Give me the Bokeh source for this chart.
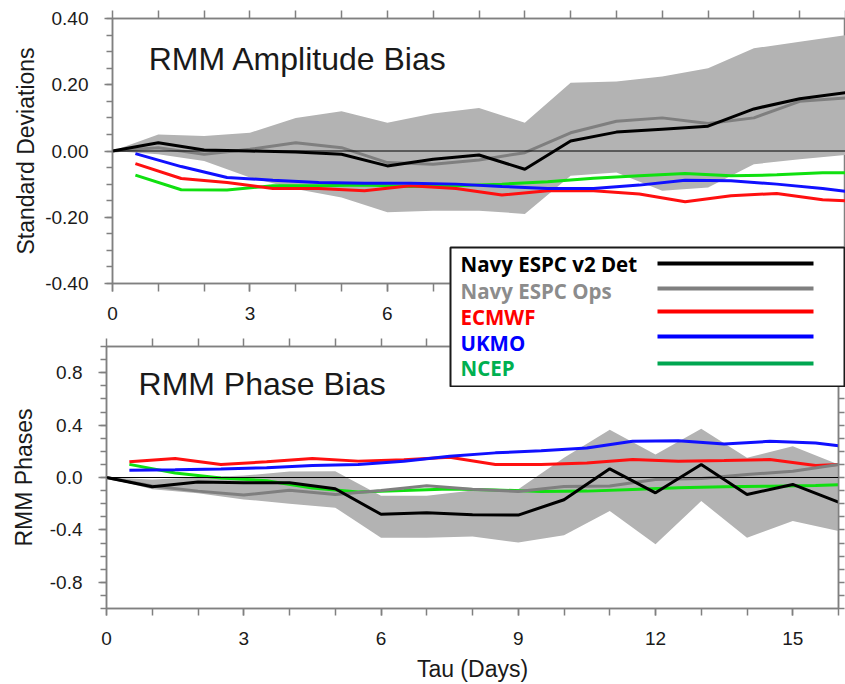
from bokeh.plotting import figure
from bokeh.models import (Range1d, FixedTicker, NumeralTickFormatter, LinearAxis,
                          Span, Label)
from bokeh.core.properties import value
from bokeh.embed import file_html
from bokeh.resources import INLINE

# ---------------- data ----------------
days = list(range(17))
half_days = [d + 0.5 for d in range(16)] + [16.0]

# RMM Amplitude Bias (standard deviations)
amp_band_upper = [0.0, 0.05, 0.045, 0.055, 0.10, 0.12, 0.085, 0.113, 0.13, 0.085,
                  0.206, 0.21, 0.225, 0.25, 0.31, 0.33, 0.35]
amp_band_lower = [0.0, -0.01, -0.03, -0.08, -0.115, -0.14, -0.185, -0.18, -0.18, -0.19,
                  -0.075, -0.065, -0.12, -0.11, -0.04, -0.025, -0.012]
amp_det = [0.0, 0.025, 0.003, 0.0, -0.003, -0.01, -0.045, -0.025, -0.012, -0.055,
           0.03, 0.057, 0.066, 0.075, 0.127, 0.158, 0.176]
amp_ops = [0.0, 0.01, -0.01, 0.005, 0.025, 0.01, -0.035, -0.04, -0.027, -0.005,
           0.055, 0.09, 0.1, 0.083, 0.1, 0.15, 0.16]
amp_ecmwf = [-0.038, -0.083, -0.095, -0.113, -0.113, -0.12, -0.105, -0.113, -0.133,
             -0.12, -0.12, -0.13, -0.153, -0.135, -0.128, -0.147, -0.15]
amp_ukmo = [-0.008, -0.047, -0.08, -0.088, -0.095, -0.097, -0.097, -0.1, -0.107,
            -0.113, -0.113, -0.103, -0.088, -0.09, -0.1, -0.113, -0.122]
amp_ncep = [-0.073, -0.117, -0.118, -0.105, -0.105, -0.103, -0.107, -0.105, -0.1,
            -0.093, -0.082, -0.075, -0.068, -0.075, -0.072, -0.066, -0.066]

# RMM Phase Bias
ph_band_upper = [0.0, -0.015, 0.0, 0.015, 0.045, 0.048, -0.14, -0.14, -0.1, -0.09,
                 0.15, 0.365, 0.175, 0.373, 0.15, 0.238, 0.099]
ph_band_lower = [0.0, -0.09, -0.12, -0.167, -0.2, -0.23, -0.459, -0.459, -0.45, -0.497,
                 -0.44, -0.256, -0.51, -0.18, -0.459, -0.332, -0.408]
ph_det = [0.0, -0.07, -0.035, -0.04, -0.04, -0.086, -0.281, -0.27, -0.284, -0.287,
          -0.17, 0.066, -0.117, 0.099, -0.13, -0.053, -0.188]
ph_ops = [0.0, -0.065, -0.104, -0.134, -0.097, -0.13, -0.1, -0.063, -0.09, -0.106,
          -0.068, -0.065, -0.015, -0.008, 0.023, 0.048, 0.099]
ph_ecmwf = [0.12, 0.145, 0.1, 0.12, 0.145, 0.125, 0.135, 0.155, 0.1, 0.1,
            0.111, 0.137, 0.124, 0.13, 0.137, 0.091, 0.099]
ph_ukmo = [0.056, 0.06, 0.065, 0.075, 0.091, 0.1, 0.124, 0.162, 0.188, 0.205,
           0.226, 0.276, 0.281, 0.256, 0.276, 0.264, 0.243]
ph_ncep = [0.1, 0.035, -0.003, -0.025, -0.08, -0.11, -0.1, -0.088, -0.095, -0.106,
           -0.104, -0.091, -0.078, -0.071, -0.066, -0.061, -0.056]

x_major = [0, 3, 6, 9, 12, 15]
amp_y_major = [-0.4, -0.2, 0.0, 0.2, 0.4]
amp_y_minor = [round(-0.4 + 0.05 * i, 2) for i in range(17)]
ph_y_major = [-0.8, -0.4, 0.0, 0.4, 0.8]
ph_y_minor = [round(-1.0 + 0.1 * i, 1) for i in range(21)]

legend_names = ["Navy ESPC v2 Det", "Navy ESPC Ops", "ECMWF", "UKMO", "NCEP"]
legend_text_colors = ["#000000", "#8c8c8c", "#ff0000", "#0000ff", "#00b050"]
legend_line_colors = ["#000000", "#7f7f7f", "#ff0000", "#0000ff", "#00a650"]

# ---------------- styles ----------------
FONT = "Liberation Sans"
AXC = "#808080"
TXT = "#1a1a1a"
C_DET, C_OPS, C_EC, C_UK, C_NC = "#000000", "#7f7f7f", "#ff1010", "#1010ff", "#10e010"
C_BAND = "#b3b3b3"
LW = 3


def style_axis(ax, ticker, fmt=None, tick_out=8, minor_out=6, standoff=14):
    ax.ticker = ticker
    if fmt is not None:
        ax.formatter = fmt
    ax.axis_line_color = AXC
    ax.axis_line_width = 1.5
    ax.major_tick_line_color = AXC
    ax.minor_tick_line_color = AXC
    ax.major_tick_line_width = 1.5
    ax.minor_tick_line_width = 1.5
    ax.major_tick_out = tick_out
    ax.major_tick_in = 0
    ax.minor_tick_out = minor_out
    ax.minor_tick_in = 0
    ax.major_label_text_font = FONT
    ax.major_label_text_color = TXT
    ax.major_label_standoff = standoff
    ax.major_label_text_font_size = "19px"
    ax.axis_label_text_font = FONT
    ax.axis_label_text_font_style = "normal"
    ax.axis_label_text_color = TXT
    ax.axis_label_text_font_size = "23px"


def tick_only_axis(minor, out):
    # an axis with only (unlabelled) minor ticks
    ax = LinearAxis()
    style_axis(ax, FixedTicker(ticks=[], minor_ticks=minor), tick_out=out, minor_out=out)
    return ax


# ---------------- top panel ----------------
p1 = figure(width=845, height=330, x_range=Range1d(0, 16), y_range=Range1d(-0.4, 0.4),
            output_backend="svg", toolbar_location=None,
            min_border_left=112, min_border_right=0, min_border_top=18, min_border_bottom=47)
p1.xgrid.visible = False
p1.ygrid.visible = False
p1.outline_line_color = AXC
p1.outline_line_width = 1.5

style_axis(p1.xaxis[0], FixedTicker(ticks=x_major, minor_ticks=days), tick_out=8, minor_out=8, standoff=15)
style_axis(p1.yaxis[0], FixedTicker(ticks=amp_y_major, minor_ticks=amp_y_minor),
           fmt=NumeralTickFormatter(format="0.00"), standoff=16)
p1.yaxis[0].axis_label = "Standard Deviations"
p1.yaxis[0].axis_label_standoff = 3
p1.add_layout(tick_only_axis(days, 8), "above")

p1.varea(x=days, y1=amp_band_lower, y2=amp_band_upper, fill_color=C_BAND)
p1.add_layout(Span(location=0, dimension="width", line_color="black", line_width=1))
p1.line(half_days, amp_ncep, line_color=C_NC, line_width=LW)
p1.line(half_days, amp_ecmwf, line_color=C_EC, line_width=LW)
p1.line(half_days, amp_ukmo, line_color=C_UK, line_width=LW)
p1.line(days, amp_ops, line_color=C_OPS, line_width=LW)
p1.line(days, amp_det, line_color=C_DET, line_width=LW)
p1.add_layout(Label(x=0.79, y=0.279, text="RMM Amplitude Bias", text_font=FONT,
                    text_font_size="32px", text_color=TXT, text_baseline="middle"))

# ---------------- bottom panel ----------------
p2 = figure(width=845, height=354, x_range=Range1d(0, 16), y_range=Range1d(-1.0, 1.0),
            output_backend="svg", toolbar_location=None,
            min_border_left=106, min_border_right=7, min_border_top=16, min_border_bottom=73)
p2.xgrid.visible = False
p2.ygrid.visible = False
p2.outline_line_color = AXC
p2.outline_line_width = 1.5

style_axis(p2.xaxis[0], FixedTicker(ticks=x_major, minor_ticks=days), tick_out=7, minor_out=7, standoff=16)
p2.xaxis[0].axis_label = "Tau (Days)"
p2.xaxis[0].axis_label_standoff = 8
style_axis(p2.yaxis[0], FixedTicker(ticks=ph_y_major, minor_ticks=ph_y_minor),
           fmt=NumeralTickFormatter(format="0.0"), standoff=16)
p2.yaxis[0].axis_label = "RMM Phases"
p2.yaxis[0].axis_label_standoff = 10
p2.add_layout(tick_only_axis(days, 8), "above")
p2.add_layout(tick_only_axis(ph_y_minor, 6), "right")

p2.varea(x=days, y1=ph_band_lower, y2=ph_band_upper, fill_color=C_BAND)
p2.add_layout(Span(location=0, dimension="width", line_color="black", line_width=1))
p2.line(half_days, ph_ncep, line_color=C_NC, line_width=LW)
p2.line(half_days, ph_ecmwf, line_color=C_EC, line_width=LW)
p2.line(half_days, ph_ukmo, line_color=C_UK, line_width=LW)
p2.line(days, ph_ops, line_color=C_OPS, line_width=LW)
p2.line(days, ph_det, line_color=C_DET, line_width=LW)
p2.add_layout(Label(x=0.70, y=0.713, text="RMM Phase Bias", text_font=FONT,
                    text_font_size="32px", text_color=TXT, text_baseline="middle"))

# ---------------- legend: a small overlay figure in pixel coordinates ----------------
LEG_W, LEG_H = 396, 141
leg = figure(width=LEG_W, height=LEG_H, x_range=Range1d(0, LEG_W - 2),
             y_range=Range1d(LEG_H - 2, 0), output_backend="svg", toolbar_location=None,
             min_border_left=1, min_border_right=1, min_border_top=1, min_border_bottom=1,
             x_axis_type=None, y_axis_type=None)
leg.styles = {"position": "absolute", "left": "449px", "top": "246px", "z-index": "10"}
leg.xgrid.visible = False
leg.ygrid.visible = False
leg.outline_line_color = "#1a1a1a"
leg.outline_line_width = 2
leg.background_fill_color = "white"
leg.border_fill_color = "white"

leg_text_x = [10] * 5
leg_text_y = [16, 43, 69, 95, 120]
leg_line_y = [16, 41, 64, 89, 116]
leg.text(x=leg_text_x, y=leg_text_y, text=legend_names, text_color=legend_text_colors,
         text_font=value("Open Sans"), text_font_style="bold", text_font_size="20.5px",
         text_baseline="middle", text_align="left")
leg.segment(x0=[207] * 5, y0=leg_line_y, x1=[363] * 5, y1=leg_line_y,
            line_color=legend_line_colors, line_width=4)

open("out.html", "w").write(file_html([p1, p2, leg], INLINE))
